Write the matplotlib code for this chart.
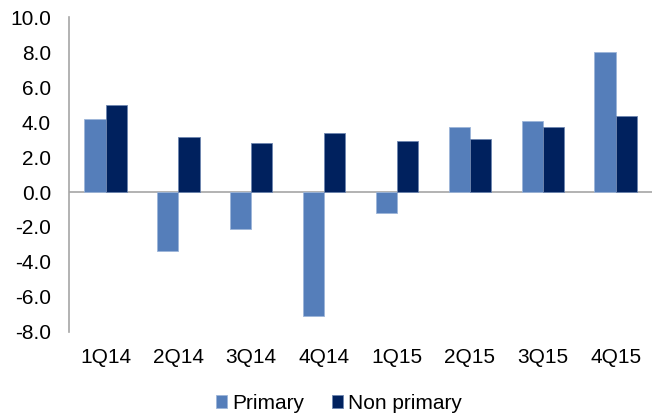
import numpy as np
import matplotlib.pyplot as plt

plt.rcParams["font.family"] = ["Liberation Sans", "DejaVu Sans"]

quarters = ["1Q14", "2Q14", "3Q14", "4Q14", "1Q15", "2Q15", "3Q15", "4Q15"]
primary = [4.2, -3.4, -2.1, -7.1, -1.2, 3.75, 4.05, 8.0]
non_primary = [5.0, 3.15, 2.8, 3.4, 2.9, 3.05, 3.75, 4.35]

fig = plt.figure(figsize=(6.52, 4.15), dpi=100)
ax = fig.add_axes([0.106, 0.2007, 0.894, 0.7573])

x = np.arange(len(quarters))
w = 0.29
ax.bar(x - w / 2, primary, w, color="#557EBA", edgecolor="#9DB5D9", linewidth=0.6, label="Primary")
ax.bar(x + w / 2, non_primary, w, color="#00215E", edgecolor="#6E86B0", linewidth=0.6, label="Non primary")

ax.axhline(0, color="#A6A6A6", linewidth=1.2, zorder=0)
ax.set_xlim(-0.5, 7.5)
ax.set_ylim(-8, 10)
ax.set_yticks(np.arange(-8, 10.1, 2))
ax.set_yticklabels([f"{v:.1f}" for v in np.arange(-8, 10.1, 2)], fontsize=15)
ax.set_xticks(x)
ax.set_xticklabels(quarters, fontsize=15)
ax.tick_params(axis="both", length=0)
ax.tick_params(axis="y", pad=13)
ax.tick_params(axis="x", pad=12)

for s in ["top", "right", "bottom"]:
    ax.spines[s].set_visible(False)
ax.spines["left"].set_color("#A6A6A6")
ax.spines["left"].set_linewidth(1.2)

fig.legend(loc="center", bbox_to_anchor=(0.52, 0.028), ncol=2, frameon=False,
           fontsize=15, handlelength=0.55, handleheight=0.55, handletextpad=0.25,
           columnspacing=1.3)

fig.savefig("out.png", dpi=100)
